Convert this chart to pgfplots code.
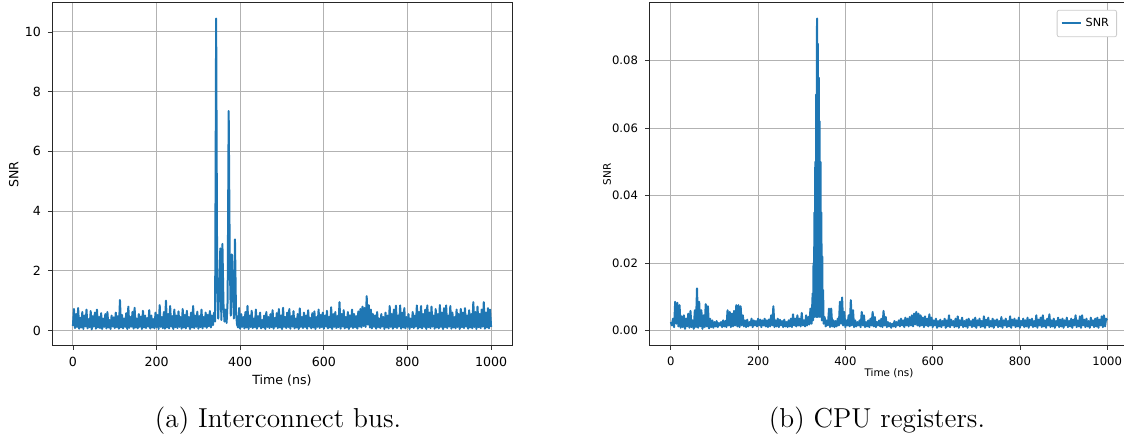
\documentclass[border=0pt]{standalone}
\usepackage{fontspec}
\setsansfont{DejaVu Sans}
\usepackage{pgfplots}
\pgfplotsset{compat=1.18}
\definecolor{mplblue}{HTML}{1F77B4}

\pgfplotsset{
  snrax/.style={
    scale only axis, xmin=-50, xmax=1050,
    xtick={0,200,...,1000},
    xticklabel style={/pgf/number format/set thousands separator={}},
    tick align=outside, tick pos=left, major tick length=2pt,
    tick style={black!80, line width=0.4pt},
    axis line style={black!85, line width=0.5pt},
    grid=major, major grid style={black!30, line width=0.5pt},
    /pgf/number format/assume math mode=true,
    legend cell align=left,
  },
  snrline/.style={mplblue, line width=1pt, line join=round},
}

\begin{document}
\begin{tikzpicture}
\path[use as bounding box] (0,0) rectangle (562pt,219.5pt);

% (a) interconnect bus
\begin{axis}[snrax, at={(26pt,46.5pt)}, anchor=south west,
  width=230pt, height=171.5pt, ymin=-0.52, ymax=10.97,
  ytick={0,2,...,10},
  tick label style={font=\sffamily\fontsize{6.3}{7}\selectfont},
  label style={font=\sffamily\fontsize{6.3}{7}\selectfont},
  xlabel={Time (ns)}, ylabel={SNR},
  x label style={at={(axis description cs:0.5,-0.102)}, anchor=center},
  y label style={at={(axis description cs:-0.083,0.5)}, anchor=center}]
\addplot[snrline] coordinates {
(0,.15)(2.5,.72)(5,.08)(7.5,.55)(10,.12)(12.5,.75)(15,.06)(17.5,.42)(20,.1)(22.5,.62)
(25,.05)(27.5,.5)(30,.14)(32.5,.7)(35,.07)(37.5,.38)(40,.11)(42.5,.65)(45,.04)(47.5,.48)
(50,.13)(52.5,.6)(55,.06)(57.5,.7)(60,.1)(62.5,.45)(65,.08)(67.5,.58)(70,.05)(72.5,.4)
(75,.12)(77.5,.55)(80,.07)(82.5,.62)(85,.1)(87.5,.35)(90,.05)(92.5,.5)(95,.13)(97.5,.44)
(100,.08)(102.5,.6)(105,.11)(107.5,.48)(110,.06)(112.5,1.02)(115,.1)(117.5,.52)(120,.07)(122.5,.4)
(125,.12)(127.5,.58)(130,.05)(132.5,.8)(135,.09)(137.5,.45)(140,.13)(142.5,.62)(145,.06)(147.5,.76)
(150,.1)(152.5,.4)(155,.07)(157.5,.55)(160,.12)(162.5,.47)(165,.05)(167.5,.66)(170,.1)(172.5,.5)
(175,.08)(177.5,.42)(180,.13)(182.5,.68)(185,.06)(187.5,.5)(190,.1)(192.5,.38)(195,.07)(197.5,.6)
(200,.11)(202.5,.52)(205,.05)(207.5,.85)(210,.12)(212.5,.45)(215,.08)(217.5,.62)(220,.06)(222.5,1.0)
(225,.1)(227.5,.55)(230,.07)(232.5,.82)(235,.13)(237.5,.48)(240,.05)(242.5,.7)(245,.11)(247.5,.5)
(250,.08)(252.5,.64)(255,.12)(257.5,.45)(260,.06)(262.5,.72)(265,.1)(267.5,.52)(270,.07)(272.5,.66)
(275,.13)(277.5,.45)(280,.05)(282.5,.6)(285,.1)(287.5,.82)(290,.08)(292.5,.5)(295,.12)(297.5,.63)
(300,.06)(302.5,.48)(305,.11)(307.5,.7)(310,.07)(312.5,.45)(315,.13)(317.5,.6)(320,.09)(322.5,.52)
(325,.14)(327.5,.65)(330,.1)(332.5,.5)(335,.18)(337.5,.6)
(340,.3)(342.5,10.45)(345,1.6)(347.5,.4)(350,1.5)(352.5,2.75)(355,.35)(357.5,2.9)(360,.9)(362.5,.3)
(365,.7)(367.5,.25)(370,1.0)(372.5,7.35)(375,2.5)(377.5,.5)(380,2.55)(382.5,1.3)(385,.4)(387.5,3.05)
(390,.6)(392.5,.2)
(395,.1)(397.5,.75)(400,.06)(402.5,.55)(405,.12)(407.5,.45)(410,.07)(412.5,.62)(415,.1)(417.5,.82)(420,.05)(422.5,.5)
(425,.12)(427.5,.66)(430,.08)(432.5,.4)(435,.11)(437.5,.7)(440,.06)(442.5,.48)(445,.13)(447.5,.6)
(450,.07)(452.5,.35)(455,.1)(457.5,.5)(460,.05)(462.5,.62)(465,.12)(467.5,.45)(470,.08)(472.5,.55)
(475,.11)(477.5,.68)(480,.06)(482.5,.42)(485,.13)(487.5,.58)(490,.08)(492.5,.72)(495,.1)(497.5,.5)
(500,.05)(502.5,.76)(505,.12)(507.5,.45)(510,.08)(512.5,.6)(515,.11)(517.5,.72)(520,.06)(522.5,.48)
(525,.13)(527.5,.65)(530,.07)(532.5,.4)(535,.1)(537.5,.55)(540,.05)(542.5,.74)(545,.12)(547.5,.45)
(550,.08)(552.5,.6)(555,.11)(557.5,.5)(560,.06)(562.5,.68)(565,.13)(567.5,.42)(570,.07)(572.5,.58)
(575,.1)(577.5,.64)(580,.05)(582.5,.45)(585,.12)(587.5,.7)(590,.08)(592.5,.52)(595,.11)(597.5,.6)
(600,.06)(602.5,.5)(605,.13)(607.5,.66)(610,.07)(612.5,.45)(615,.1)(617.5,.78)(620,.05)(622.5,.55)
(625,.12)(627.5,.62)(630,.08)(632.5,.48)(635,.11)(637.5,.95)(640,.06)(642.5,.55)(645,.13)(647.5,.68)
(650,.07)(652.5,.45)(655,.1)(657.5,.62)(660,.05)(662.5,.5)(665,.12)(667.5,.7)(670,.08)(672.5,.55)
(675,.11)(677.5,.48)(680,.06)(682.5,.64)(685,.13)(687.5,.72)(690,.1)(692.5,.8)(695,.15)(697.5,.75)
(700,.12)(702.5,1.15)(705,.2)(707.5,.85)(710,.1)(712.5,.7)(715,.07)(717.5,.55)(720,.12)(722.5,.5)
(725,.06)(727.5,.62)(730,.11)(732.5,.4)(735,.08)(737.5,.55)(740,.13)(742.5,.45)(745,.05)(747.5,.6)
(750,.1)(752.5,.5)(755,.07)(757.5,.82)(760,.12)(762.5,.55)(765,.06)(767.5,.7)(770,.11)(772.5,.83)
(775,.08)(777.5,.5)(780,.13)(782.5,.84)(785,.06)(787.5,.6)(790,.1)(792.5,.75)(795,.07)(797.5,.45)
(800,.12)(802.5,.55)(805,.05)(807.5,.4)(810,.11)(812.5,.62)(815,.08)(817.5,.5)(820,.13)(822.5,.84)
(825,.06)(827.5,.62)(830,.1)(832.5,.82)(835,.07)(837.5,.55)(840,.12)(842.5,.7)(845,.05)(847.5,.84)
(850,.11)(852.5,.6)(855,.08)(857.5,.8)(860,.13)(862.5,.5)(865,.06)(867.5,.72)(870,.1)(872.5,.55)
(875,.07)(877.5,.85)(880,.12)(882.5,.6)(885,.05)(887.5,.75)(890,.11)(892.5,.84)(895,.08)(897.5,.5)
(900,.13)(902.5,.82)(905,.06)(907.5,.6)(910,.1)(912.5,.45)(915,.07)(917.5,.7)(920,.12)(922.5,.55)
(925,.05)(927.5,.72)(930,.11)(932.5,.6)(935,.08)(937.5,.75)(940,.13)(942.5,.5)(945,.06)(947.5,.68)
(950,.1)(952.5,.55)(955,.07)(957.5,.95)(960,.12)(962.5,.62)(965,.05)(967.5,.8)(970,.11)(972.5,.55)
(975,.08)(977.5,.7)(980,.13)(982.5,.95)(985,.06)(987.5,.6)(990,.1)(992.5,.75)(995,.07)(997.5,.7)(1000,.12)
};
\end{axis}

% (b) CPU registers
\begin{axis}[snrax, at={(324.5pt,46.5pt)}, anchor=south west,
  width=240pt, height=171.5pt, ymin=-0.0046, ymax=0.0971,
  ytick={0,0.02,...,0.08}, scaled y ticks=false,
  yticklabel style={/pgf/number format/.cd, fixed, fixed zerofill, precision=2},
  tick label style={font=\sffamily\fontsize{5.8}{7}\selectfont},
  label style={font=\sffamily\fontsize{5.2}{6}\selectfont},
  xlabel={Time (ns)}, ylabel={SNR},
  x label style={at={(axis description cs:0.5,-0.079)}, anchor=center},
  y label style={at={(axis description cs:-0.0875,0.5)}, anchor=center},
  legend style={at={(axis description cs:0.975,0.98)}, anchor=north east,
    draw=black!20, rounded corners=1pt, fill=white,
    font=\sffamily\fontsize{5.6}{6.5}\selectfont, inner sep=1.8pt},
  legend image code/.code={\draw[draw=mplblue, line width=1pt] (0pt,0pt) -- (9.5pt,0pt);}]
\addplot[snrline] coordinates {
(0,.0025)(2.5,.0015)(5,.0035)(7.5,.001)(10,.0085)(12.5,.002)(15,.0082)(17.5,.0012)(20,.0075)(22.5,.0008)
(25,.0042)(27.5,.001)(30,.0045)(32.5,.0005)(35,.0035)(37.5,.0012)(40,.005)(42.5,.0008)(45,.0058)(47.5,.001)
(50,.003)(52.5,.0005)(55,.006)(57.5,.001)(60,.0125)(62.5,.0008)(65,.0085)(67.5,.0012)(70,.006)(72.5,.0005)
(75,.0045)(77.5,.001)(80,.0078)(82.5,.0012)(85,.0072)(87.5,.0006)(90,.0035)(92.5,.001)(95,.003)(97.5,.0008)
(100,.0025)(102.5,.0012)(105,.0028)(107.5,.001)(110,.0022)(112.5,.0015)(115,.0025)(117.5,.001)(120,.003)(122.5,.0012)
(125,.0028)(127.5,.001)(130,.006)(132.5,.0015)(135,.0055)(137.5,.001)(140,.005)(142.5,.0012)(145,.0058)(147.5,.0015)
(150,.0075)(152.5,.0012)(155,.0075)(157.5,.001)(160,.0072)(162.5,.0015)(165,.0045)(167.5,.0012)(170,.003)(172.5,.001)
(175,.0032)(177.5,.0012)(180,.0025)(182.5,.0015)(185,.0035)(187.5,.001)(190,.003)(192.5,.0015)(195,.0028)(197.5,.0012)
(200,.0035)(202.5,.0015)(205,.0032)(207.5,.001)(210,.003)(212.5,.0015)(215,.0035)(217.5,.0012)(220,.003)(222.5,.001)
(225,.0033)(227.5,.0012)(230,.0045)(232.5,.0015)(235,.0072)(237.5,.001)(240,.003)(242.5,.0012)(245,.0035)(247.5,.001)
(250,.0032)(252.5,.0015)(255,.0028)(257.5,.001)(260,.0032)(262.5,.0012)(265,.0025)(267.5,.001)(270,.003)(272.5,.0012)
(275,.0035)(277.5,.001)(280,.0048)(282.5,.0015)(285,.0035)(287.5,.0012)(290,.0045)(292.5,.0015)(295,.0035)(297.5,.0012)
(300,.0052)(302.5,.0015)(305,.003)(307.5,.0012)(310,.0045)(312.5,.0015)(315,.004)(317.5,.0018)(320,.0065)(322.5,.002)
(325,.011)(326,.003)(327,.02)(328,.004)(329,.035)(330,.004)(331,.05)(332,.005)(333,.07)(334,.004)
(335,.0925)(336,.004)(337,.085)(338,.005)(339,.075)(340,.004)(341,.062)(342,.005)(343,.05)(344,.004)
(345,.035)(346,.003)(347,.022)(348,.003)(349,.012)(350,.002)(352.5,.004)
(355,.0012)(357.5,.003)(360,.0015)(362.5,.0065)(365,.001)(367.5,.0065)(370,.0012)(372.5,.003)
(375,.001)(377.5,.0028)(380,.0012)(382.5,.0035)(385,.0015)(387.5,.0085)(390,.002)(392.5,.0098)(395,.0015)(397.5,.0055)
(400,.001)(402.5,.003)(405,.0015)(407.5,.0045)(410,.0012)(412.5,.009)(415,.0015)(417.5,.006)(420,.001)(422.5,.003)
(425,.0012)(427.5,.0025)(430,.0015)(432.5,.003)(435,.001)(437.5,.0055)(440,.0015)(442.5,.0045)(445,.001)(447.5,.0025)
(450,.0012)(452.5,.003)(455,.001)(457.5,.0035)(460,.0015)(462.5,.0055)(465,.0012)(467.5,.004)(470,.001)(472.5,.0025)
(475,.0015)(477.5,.003)(480,.0012)(482.5,.0035)(485,.001)(487.5,.0058)(490,.0015)(492.5,.004)(495,.001)(497.5,.0025)
(500,.0012)(502.5,.0022)(505,.0008)(507.5,.002)(510,.0012)(512.5,.0028)(515,.001)(517.5,.0025)(520,.0015)(522.5,.003)
(525,.0012)(527.5,.0035)(530,.0015)(532.5,.003)(535,.001)(537.5,.0038)(540,.0015)(542.5,.0035)(545,.0012)(547.5,.004)
(550,.0015)(552.5,.0045)(555,.0012)(557.5,.005)(560,.0018)(562.5,.0055)(565,.0015)(567.5,.005)(570,.0012)(572.5,.0045)
(575,.0015)(577.5,.0038)(580,.001)(582.5,.0042)(585,.0015)(587.5,.0035)(590,.0012)(592.5,.0048)(595,.0015)(597.5,.0038)
(600,.001)(602.5,.003)(605,.0015)(607.5,.0035)(610,.0008)(612.5,.0028)(615,.0012)(617.5,.0032)(620,.001)(622.5,.0028)
(625,.0015)(627.5,.0035)(630,.0008)(632.5,.003)(635,.0012)(637.5,.0045)(640,.001)(642.5,.0032)(645,.0015)(647.5,.0028)
(650,.001)(652.5,.0035)(655,.0012)(657.5,.0042)(660,.0008)(662.5,.003)(665,.0015)(667.5,.0038)(670,.001)(672.5,.0028)
(675,.0012)(677.5,.0032)(680,.0008)(682.5,.0035)(685,.0015)(687.5,.0028)(690,.001)(692.5,.0033)(695,.0012)(697.5,.0038)
(700,.0008)(702.5,.003)(705,.0015)(707.5,.0035)(710,.001)(712.5,.0028)(715,.0012)(717.5,.0042)(720,.0008)(722.5,.0032)
(725,.0015)(727.5,.0038)(730,.001)(732.5,.0028)(735,.0012)(737.5,.0035)(740,.0008)(742.5,.003)(745,.0015)(747.5,.0033)
(750,.001)(752.5,.0028)(755,.0012)(757.5,.004)(760,.0008)(762.5,.003)(765,.0015)(767.5,.0035)(770,.001)(772.5,.0028)
(775,.0012)(777.5,.0042)(780,.0008)(782.5,.0032)(785,.0015)(787.5,.0035)(790,.001)(792.5,.003)(795,.0012)(797.5,.0038)
(800,.0008)(802.5,.0028)(805,.0015)(807.5,.0035)(810,.001)(812.5,.003)(815,.0012)(817.5,.0038)(820,.0008)(822.5,.0032)
(825,.0015)(827.5,.0035)(830,.001)(832.5,.0028)(835,.0012)(837.5,.0045)(840,.0008)(842.5,.0032)(845,.0015)(847.5,.0038)
(850,.001)(852.5,.0045)(855,.0012)(857.5,.003)(860,.0008)(862.5,.0035)(865,.0015)(867.5,.0048)(870,.001)(872.5,.003)
(875,.0012)(877.5,.0035)(880,.0008)(882.5,.0028)(885,.0015)(887.5,.0038)(890,.001)(892.5,.0032)(895,.0012)(897.5,.0035)
(900,.0008)(902.5,.003)(905,.0015)(907.5,.0038)(910,.001)(912.5,.0028)(915,.0012)(917.5,.0035)(920,.0008)(922.5,.0032)
(925,.0015)(927.5,.0045)(930,.001)(932.5,.003)(935,.0012)(937.5,.0042)(940,.0008)(942.5,.0045)(945,.0015)(947.5,.0032)
(950,.001)(952.5,.0035)(955,.0012)(957.5,.0028)(960,.0008)(962.5,.0038)(965,.0015)(967.5,.003)(970,.001)(972.5,.0035)
(975,.0012)(977.5,.0038)(980,.0008)(982.5,.0032)(985,.0015)(987.5,.0042)(990,.001)(992.5,.0045)(995,.0012)(997.5,.0035)(1000,.003)
};
\addlegendentry{SNR}
\end{axis}

\node[anchor=base, font=\fontsize{13.7}{16}\selectfont] at (139pt,5.5pt) {(a) Interconnect bus.};
\node[anchor=base, font=\fontsize{13.7}{16}\selectfont] at (438.5pt,5.5pt) {(b) CPU registers.};
\end{tikzpicture}
\end{document}
